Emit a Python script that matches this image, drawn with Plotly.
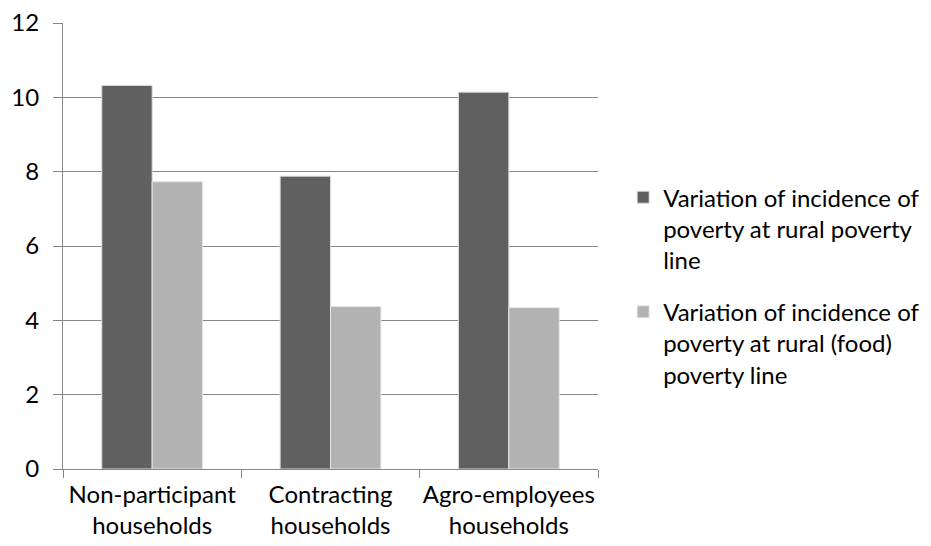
import plotly.graph_objects as go

categories = ["Non-participant<br>households", "Contracting<br>households", "Agro-employees<br>households"]
rural_line = [10.32, 7.88, 10.14]
food_line = [7.73, 4.37, 4.34]
series_names = [
    "Variation of incidence of<br>poverty at rural poverty<br>line",
    "Variation of incidence of<br>poverty at rural (food)<br>poverty line",
]
y_ticks = [0, 2, 4, 6, 8, 10, 12]

FONT = "Lato, Carlito, Calibri, sans-serif"
GRID = "#878787"

fig = go.Figure()
fig.add_trace(go.Bar(
    x=categories, y=rural_line, name=series_names[0], legendgroup="a",
    marker=dict(color="#606060", line=dict(color="#dcdcdc", width=1)),
))
fig.add_trace(go.Bar(
    x=categories, y=food_line, name=series_names[1], legendgroup="b",
    marker=dict(color="#b2b2b2", line=dict(color="#e6e6e6", width=1)),
))

fig.update_layout(
    width=931, height=546,
    margin=dict(l=63, r=333, t=23, b=77, autoexpand=False),
    paper_bgcolor="white", plot_bgcolor="white",
    barmode="group", bargap=0.435, bargroupgap=0,
    font=dict(family=FONT, size=24, color="black"),
    legend=dict(
        x=1.047, y=0.659, xanchor="left", yanchor="top",
        valign="top", tracegroupgap=18,
        font=dict(family=FONT, size=24, color="black"),
    ),
)
fig.update_xaxes(
    showline=True, linecolor=GRID, linewidth=1,
    ticks="outside", tickson="boundaries", ticklen=8, tickcolor=GRID,
    showgrid=False, ticklabelstandoff=4, tickangle=0,
    tickfont=dict(size=24),
)
fig.update_yaxes(
    range=[0, 12], tickvals=y_ticks,
    showline=True, linecolor=GRID, linewidth=1,
    showgrid=True, gridcolor=GRID, gridwidth=1,
    ticks="outside", ticklen=9, tickcolor=GRID,
    zeroline=False, ticklabelstandoff=9,
)

fig.write_html("out.html")
